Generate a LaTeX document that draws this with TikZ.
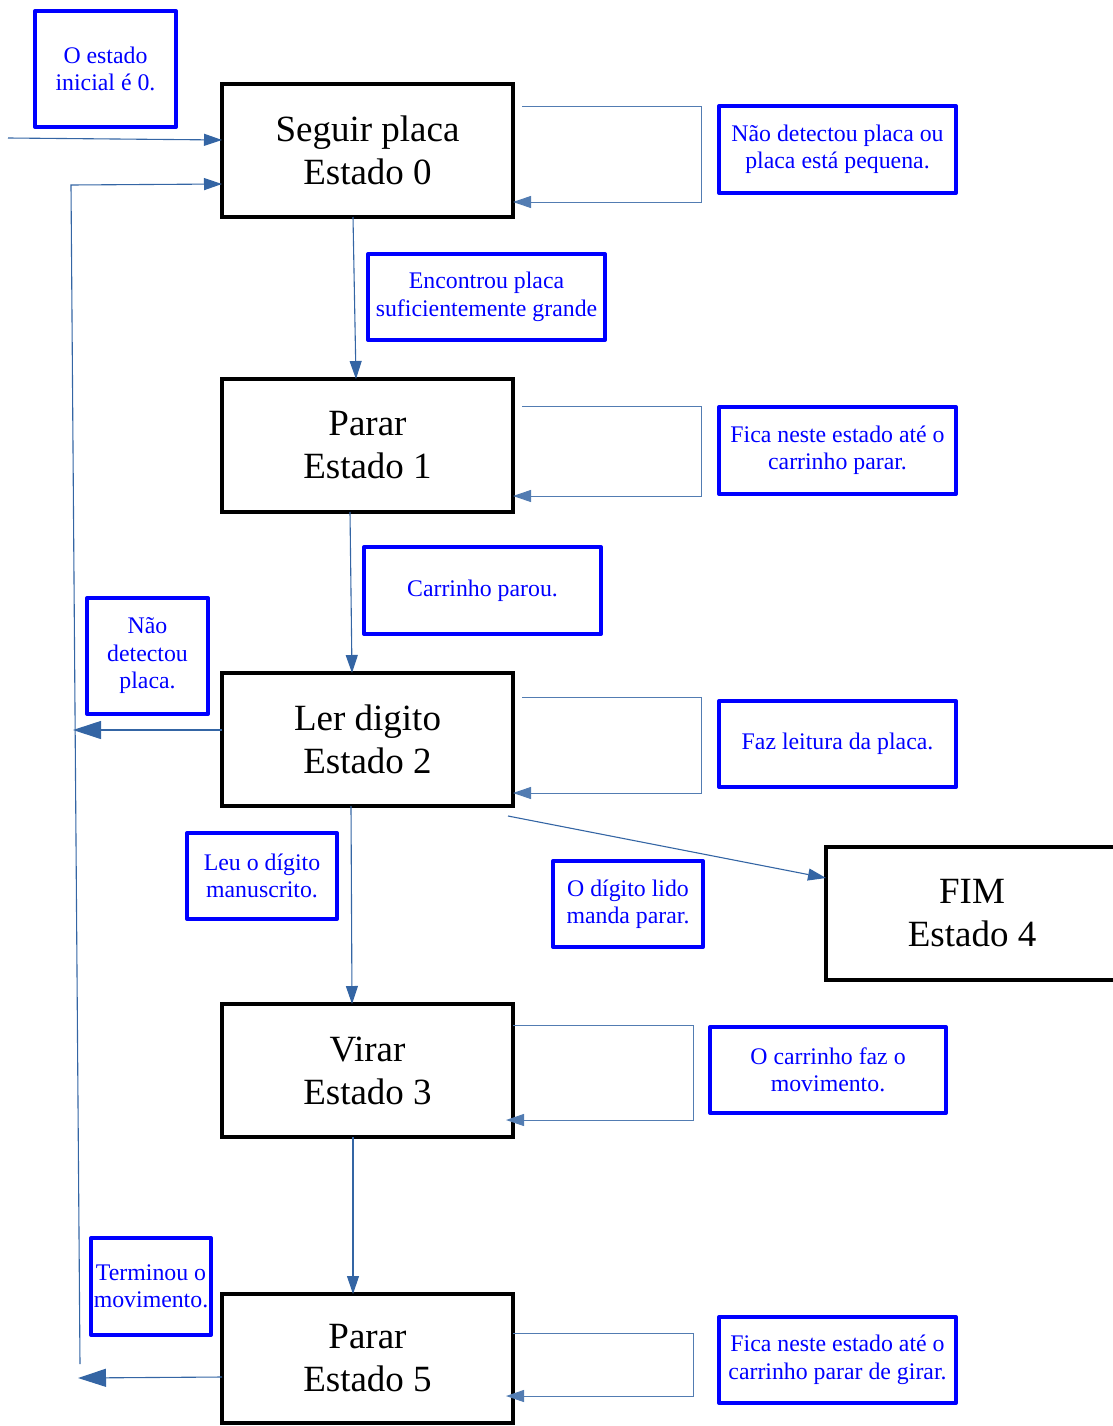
\documentclass[tikz,border=0pt]{standalone}
\usepackage{fontspec}
\setmainfont{Liberation Serif}
\usetikzlibrary{arrows.meta,calc}
\definecolor{linkblue}{HTML}{3465A4}
\definecolor{noteblue}{HTML}{0000FF}
\begin{document}
\begin{tikzpicture}[x=1pt,y=-1pt,
  statebox/.style={draw=black,line width=4pt,minimum width=291pt,minimum height=133pt,
    inner sep=0pt,outer sep=0pt,align=center,font=\fontsize{37}{43}\selectfont},
  note/.style={draw=noteblue,line width=4pt,line join=round,text=noteblue,inner sep=0pt,
    align=center,font=\fontsize{23.8}{27.5}\selectfont},
  conn/.style={draw=linkblue,line width=1.1pt,-{Triangle[length=18pt,width=12pt]}},
  bigconn/.style={draw=linkblue,line width=1.1pt,-{Triangle[length=28pt,width=18pt]}},
  loopconn/.style={draw=linkblue!85,line width=1pt,-{Triangle[length=18pt,width=12pt]}}]
\useasboundingbox (0,0) rectangle (1112,1426);

% states
\node[statebox] (s0) at (367.5,150.5) {Seguir placa\\Estado 0};
\node[statebox] (s1) at (367.5,445.5) {Parar\\Estado 1};
\node[statebox] (s2) at (367.5,739.5) {Ler digito\\Estado 2};
\node[statebox] (s3) at (367.5,1070.5) {Virar\\Estado 3};
\node[statebox,minimum height=129pt] (s5) at (367.5,1358.5) {Parar\\Estado 5};
\node[statebox,minimum width=292pt] (s4) at (972,913.5) {FIM\\Estado 4};

% notes
\node[note,minimum width=141pt,minimum height=116pt] (n0) at (105.5,69) {O estado\\inicial é 0.};
\node[note,minimum width=237pt,minimum height=87pt] (n1) at (837.5,149.5) {Não detectou placa ou\\placa está pequena.};
\node[note,minimum width=237pt,minimum height=86pt] (n2) at (486.5,297) {Encontrou placa\\suficientemente grande};
\node[note,minimum width=237pt,minimum height=87pt] (n3) at (837.5,450.5) {Fica neste estado até o\\carrinho parar.};
\node[note,minimum width=237pt,minimum height=87pt] (n4) at (482.5,590.5) {Carrinho parou.};
\node[note,minimum width=121pt,minimum height=116pt] (n5) at (147.5,656) {Não\\detectou\\placa.};
\node[note,minimum width=237pt,minimum height=86pt] (n6) at (837.5,744) {Faz leitura da placa.};
\node[note,minimum width=150pt,minimum height=86pt] (n7) at (262,876) {Leu o dígito\\manuscrito.};
\node[note,minimum width=150pt,minimum height=86pt] (n8) at (628,904) {O dígito lido\\manda parar.};
\node[note,minimum width=236pt,minimum height=86pt] (n9) at (828,1070) {O carrinho faz o\\movimento.};
\node[note,minimum width=120pt,minimum height=97pt] (n10) at (151,1286.5) {Terminou o\\movimento.};
\node[note,minimum width=237pt,minimum height=86pt] (n11) at (837.5,1360) {Fica neste estado até o\\carrinho parar de girar.};

% free ends
\coordinate (start) at (8,138);
\coordinate (lb) at (80,1364);
\coordinate (lt) at (71,185);
\coordinate (j2) at (73,730);
\coordinate (j5) at (78,1378);

% initial transition
\draw[conn] (start) -- ([shift={(0,-10.5)}]s0.west);

% self loops
\draw[loopconn] ([shift={(9,-43.5)}]s0.east) -| ([shift={(188,51.5)}]s0.east) -- ([shift={(0,51.5)}]s0.east);
\draw[loopconn] ([shift={(9,-39.5)}]s1.east) -| ([shift={(188,50.5)}]s1.east) -- ([shift={(0,50.5)}]s1.east);
\draw[loopconn] ([shift={(9,-42.5)}]s2.east) -| ([shift={(188,53.5)}]s2.east) -- ([shift={(0,53.5)}]s2.east);
\draw[loopconn] ([shift={(0,-45.5)}]s3.east) -| ([shift={(180,49.5)}]s3.east) -- ([shift={(-7,49.5)}]s3.east);
\draw[loopconn] ([shift={(0,-25.5)}]s5.east) -| ([shift={(180,37.5)}]s5.east) -- ([shift={(-7,37.5)}]s5.east);

% forward transitions
\draw[conn] ([shift={(-14.5,0)}]s0.south) -- ([shift={(-11.5,0)}]s1.north);
\draw[conn] ([shift={(-17.5,0)}]s1.south) -- ([shift={(-15.5,0)}]s2.north);
\draw[conn] ([shift={(-16.5,0)}]s2.south) -- ([shift={(-15.5,0)}]s3.north);
\draw[conn] ([shift={(-14.5,0)}]s3.south) -- ([shift={(-14.5,0)}]s5.north);
\draw[conn] ([shift={(-5,10)}]s2.south east) -- ([shift={(0,-35.5)}]s4.west);

% return path to state 0
\draw[bigconn] ([shift={(0,-9.5)}]s2.west) -- (j2);
\draw[bigconn] ([shift={(0,18.5)}]s5.west) -- (j5);
\draw[conn] (lb) -- (lt) -- ([shift={(0,33.5)}]s0.west);
\end{tikzpicture}
\end{document}
